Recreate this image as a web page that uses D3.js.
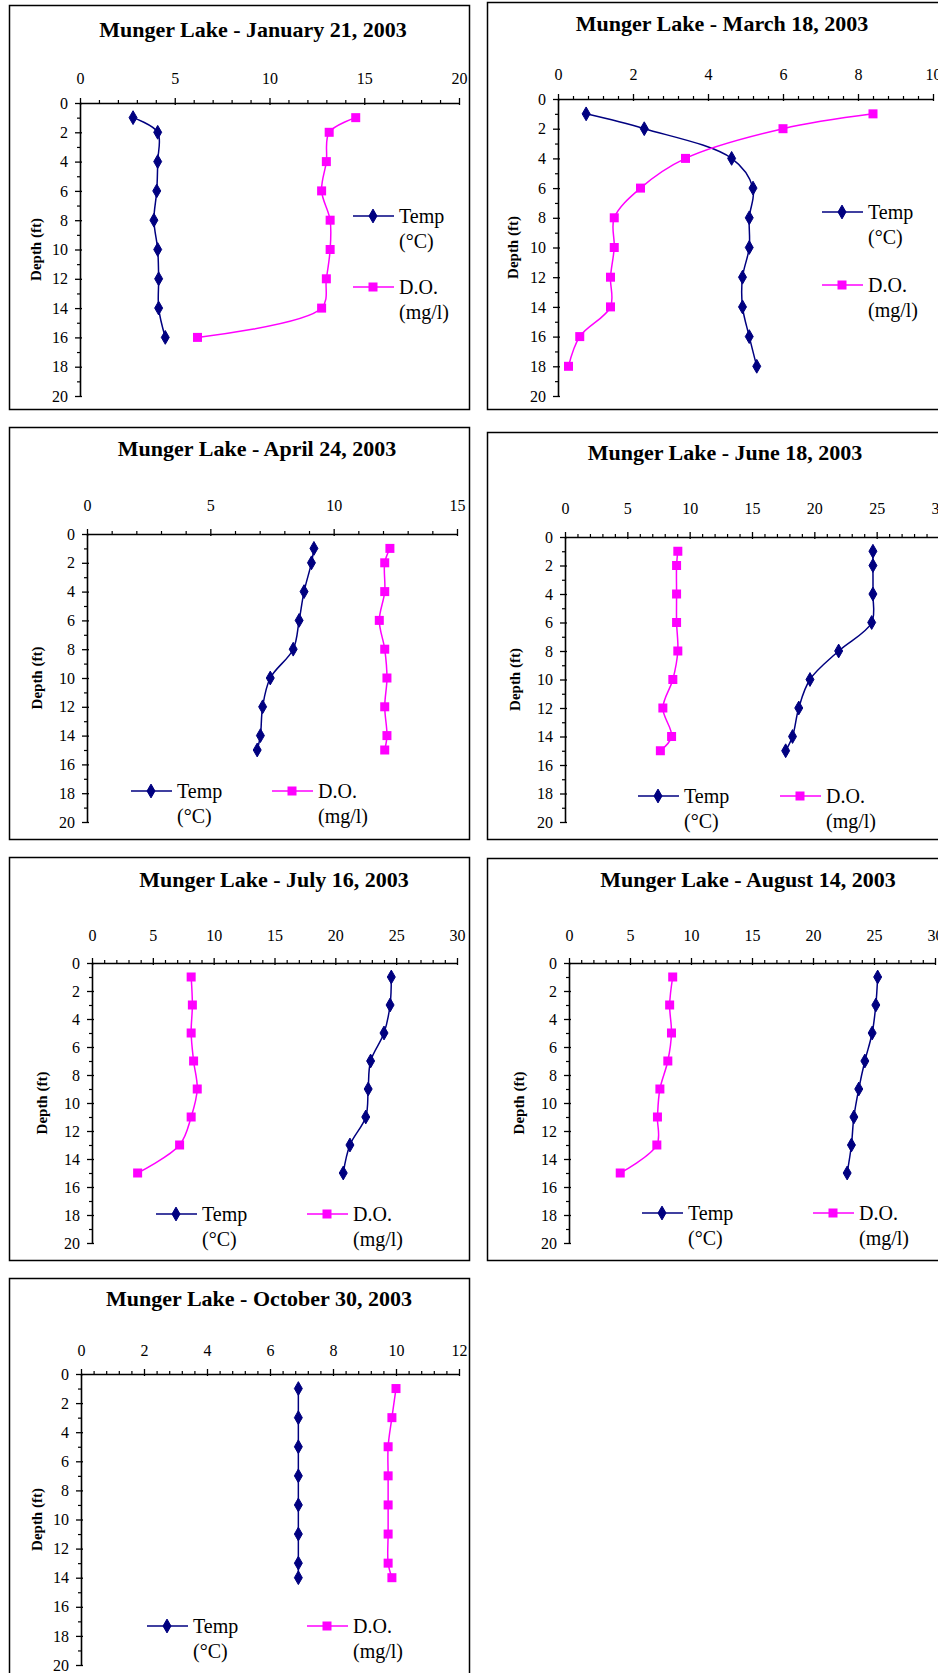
<!DOCTYPE html>
<html>
<head>
<meta charset="utf-8">
<script src="https://cdn.jsdelivr.net/npm/d3@7"></script>
<style>
  body { margin: 0; background: #fff; }
  svg text { font-family: "Liberation Serif", "Times New Roman", serif; fill: #000; }
</style>
</head>
<body>
<div id="chart"></div>
<script>
// depth profiles
const janDepth = [1, 2, 4, 6, 8, 10, 12, 14, 16];
const janTemp = [2.8, 4.1, 4.1, 4.05, 3.9, 4.1, 4.15, 4.15, 4.5];
const janDO = [14.55, 13.15, 13.0, 12.75, 13.2, 13.2, 13.0, 12.75, 6.2];

const marDepth = [1, 2, 4, 6, 8, 10, 12, 14, 16, 18];
const marTemp = [0.75, 2.3, 4.63, 5.2, 5.1, 5.1, 4.92, 4.92, 5.1, 5.3];
const marDO = [8.4, 6.0, 3.4, 2.2, 1.5, 1.5, 1.4, 1.4, 0.58, 0.28];

const aprDepth = [1, 2, 4, 6, 8, 10, 12, 14, 15];
const aprTemp = [9.2, 9.1, 8.8, 8.6, 8.36, 7.43, 7.12, 7.03, 6.9];
const aprDO = [12.28, 12.07, 12.07, 11.85, 12.07, 12.16, 12.07, 12.16, 12.07];

const junDepth = [1, 2, 4, 6, 8, 10, 12, 14, 15];
const junTemp = [24.7, 24.7, 24.7, 24.6, 21.95, 19.65, 18.75, 18.25, 17.7];
const junDO = [9.05, 8.95, 8.95, 8.95, 9.05, 8.65, 7.85, 8.55, 7.65];

const julDepth = [1, 3, 5, 7, 9, 11, 13, 15];
const julTemp = [24.6, 24.5, 24.0, 22.9, 22.7, 22.5, 21.2, 20.65];
const julDO = [8.15, 8.25, 8.15, 8.35, 8.65, 8.15, 7.2, 3.75];

const augDepth = [1, 3, 5, 7, 9, 11, 13, 15];
const augTemp = [25.3, 25.15, 24.85, 24.25, 23.75, 23.35, 23.15, 22.8];
const augDO = [8.5, 8.25, 8.4, 8.1, 7.45, 7.25, 7.2, 4.2];

const octDepth = [1, 3, 5, 7, 9, 11, 13, 14];
const octTemp = [6.9, 6.9, 6.9, 6.9, 6.9, 6.9, 6.9, 6.9];
const octDO = [10.0, 9.87, 9.75, 9.75, 9.75, 9.75, 9.75, 9.87];

const titles = [
  "Munger Lake - January 21, 2003",
  "Munger Lake - March 18, 2003",
  "Munger Lake - April 24, 2003",
  "Munger Lake - June 18, 2003",
  "Munger Lake - July 16, 2003",
  "Munger Lake - August 14, 2003",
  "Munger Lake - October 30, 2003"
];
const xMaxes = [20, 10, 15, 30, 30, 30, 12];
const xMajorSteps = [5, 2, 5, 5, 5, 5, 2];
const depthTicks = [0, 2, 4, 6, 8, 10, 12, 14, 16, 18, 20];
const legendTemp = ["Temp", "(°C)"];
const legendDO = ["D.O.", "(mg/l)"];
const depthLabel = "Depth (ft)";

const series = [
  [janDepth, janTemp, janDO],
  [marDepth, marTemp, marDO],
  [aprDepth, aprTemp, aprDO],
  [junDepth, junTemp, junDO],
  [julDepth, julTemp, julDO],
  [augDepth, augTemp, augDO],
  [octDepth, octTemp, octDO]
];

// layout of each panel (pixels)
const layout = [
  { box: [9, 5, 469, 409], plot: [80, 103, 459, 396], titleX: 253, titleY: 37, lab: 19, yLabX: 36,
    legend: "right", lx: 353, ly1: 216, ly2: 287 },
  { box: [487, 2, 960, 409], plot: [558, 99, 933, 396], titleX: 722, titleY: 31, lab: 19, yLabX: 513,
    legend: "right", lx: 822, ly1: 212, ly2: 285 },
  { box: [9, 427, 469, 839], plot: [87, 534, 457, 822], titleX: 257, titleY: 456, lab: 23, yLabX: 37,
    legend: "bottom", lx1: 131, lx2: 272, ly: 791 },
  { box: [487, 432, 960, 839], plot: [565, 537, 939, 822], titleX: 725, titleY: 460, lab: 23, yLabX: 515,
    legend: "bottom", lx1: 638, lx2: 780, ly: 796 },
  { box: [9, 857, 469, 1260], plot: [92, 963, 457, 1243], titleX: 274, titleY: 887, lab: 22, yLabX: 42,
    legend: "bottom", lx1: 156, lx2: 307, ly: 1214 },
  { box: [487, 858, 960, 1260], plot: [569, 963, 935, 1243], titleX: 748, titleY: 887, lab: 22, yLabX: 519,
    legend: "bottom", lx1: 642, lx2: 813, ly: 1213 },
  { box: [9, 1278, 469, 1700], plot: [81, 1374, 459, 1665], titleX: 259, titleY: 1306, lab: 18, yLabX: 37,
    legend: "bottom", lx1: 147, lx2: 307, ly: 1626 }
];

const tempColor = "#000080";
const doColor = "#ff00ff";
const serif = '"Liberation Serif", "Times New Roman", serif';

const svg = d3
  .select("#chart")
  .append("svg")
  .attr("width", 938)
  .attr("height", 1673);

const diamond = d3.symbol().type(d3.symbolDiamond).size(55);

function drawTempMarker(g, cx, cy) {
  g.append("path")
    .attr("d", diamond())
    .attr("transform", `translate(${cx},${cy})`)
    .attr("fill", tempColor)
    .attr("stroke", tempColor)
    .attr("stroke-width", 1);
}

function drawDOMarker(g, cx, cy) {
  g.append("rect")
    .attr("x", cx - 4.5)
    .attr("y", cy - 4.5)
    .attr("width", 9)
    .attr("height", 9)
    .attr("fill", doColor);
}

function legendEntry(g, x1, y, isTemp, textLines) {
  const color = isTemp ? tempColor : doColor;
  g.append("line")
    .attr("x1", x1).attr("x2", x1 + 41)
    .attr("y1", y).attr("y2", y)
    .attr("stroke", color).attr("stroke-width", 1.5);
  if (isTemp) drawTempMarker(g, x1 + 20, y);
  else drawDOMarker(g, x1 + 20, y);
  g.append("text")
    .attr("x", x1 + 46)
    .attr("y", y + 7)
    .style("font-size", "20px")
    .text(textLines[0]);
  g.append("text")
    .attr("x", x1 + 46)
    .attr("y", y + 32)
    .style("font-size", "20px")
    .text(textLines[1]);
}

// d3 axes put font attributes on the group; clear them and style the labels directly
function styleAxis(sel) {
  sel.attr("font-family", null).attr("font-size", null);
  sel.selectAll("text")
    .style("font-family", serif)
    .style("font-size", "16px")
    .style("fill", "#000");
}

series.forEach((s, i) => {
  const L = layout[i];
  const [depth, temp, dO] = s;
  const g = svg.append("g");

  // panel frame
  g.append("rect")
    .attr("x", L.box[0] + 0.5)
    .attr("y", L.box[1] + 0.5)
    .attr("width", L.box[2] - L.box[0])
    .attr("height", L.box[3] - L.box[1])
    .attr("fill", "#fff")
    .attr("stroke", "#000")
    .attr("stroke-width", 1.5);

  // title
  g.append("text")
    .attr("x", L.titleX)
    .attr("y", L.titleY)
    .attr("text-anchor", "middle")
    .style("font-size", "22px")
    .style("font-weight", "bold")
    .text(titles[i]);

  const x = d3.scaleLinear().domain([0, xMaxes[i]]).range([L.plot[0], L.plot[2]]);
  const y = d3.scaleLinear().domain([0, 20]).range([L.plot[1], L.plot[3]]);

  const step = xMajorSteps[i];
  const majors = d3.range(0, xMaxes[i] + step / 2, step);
  const minors = d3.range(0, xMaxes[i] + 1e-6, step / 5).filter(
    (v) => Math.abs(v / step - Math.round(v / step)) > 1e-6
  );

  // x axis on top, minor ticks
  g.append("g")
    .attr("transform", `translate(0,${L.plot[1]})`)
    .call(d3.axisTop(x).tickValues(minors).tickSize(3).tickFormat(""))
    .call((a) => a.select(".domain").remove())
    .selectAll("line").attr("stroke", "#000").attr("stroke-width", 1.2);

  // x axis major ticks + labels
  const xa = g.append("g")
    .attr("transform", `translate(0,${L.plot[1]})`)
    .call(d3.axisTop(x).tickValues(majors).tickSizeInner(5).tickSizeOuter(0).tickPadding(L.lab - 5));
  xa.select(".domain").attr("stroke", "#000").attr("stroke-width", 1.6);
  xa.selectAll(".tick line").attr("y1", 2).attr("stroke", "#000").attr("stroke-width", 1.3);
  styleAxis(xa);

  // y axis: minor ticks
  g.append("g")
    .attr("transform", `translate(${L.plot[0]},0)`)
    .call(d3.axisLeft(y).tickValues(d3.range(1, 20, 2)).tickSize(3).tickFormat(""))
    .call((a) => a.select(".domain").remove())
    .selectAll("line").attr("stroke", "#000").attr("stroke-width", 1.2);

  const ya = g.append("g")
    .attr("transform", `translate(${L.plot[0]},0)`)
    .call(d3.axisLeft(y).tickValues(depthTicks).tickSizeInner(5).tickSizeOuter(0).tickPadding(7));
  ya.select(".domain").attr("stroke", "#000").attr("stroke-width", 1.6);
  ya.selectAll(".tick line").attr("x1", 2).attr("stroke", "#000").attr("stroke-width", 1.3);
  styleAxis(ya);

  // y axis title
  const yMid = (L.plot[1] + L.plot[3]) / 2;
  g.append("text")
    .attr("transform", `translate(${L.yLabX + 5},${yMid}) rotate(-90)`)
    .attr("text-anchor", "middle")
    .style("font-size", "15px")
    .style("font-weight", "bold")
    .text(depthLabel);

  // series lines
  const pts = (vals) => depth.map((d, k) => [x(vals[k]), y(d)]);
  const line = d3.line().curve(d3.curveCatmullRom.alpha(0.5));

  g.append("path")
    .attr("d", line(pts(temp)))
    .attr("fill", "none")
    .attr("stroke", tempColor)
    .attr("stroke-width", 1.5);
  g.append("path")
    .attr("d", line(pts(dO)))
    .attr("fill", "none")
    .attr("stroke", doColor)
    .attr("stroke-width", 1.5);

  pts(temp).forEach((p) => drawTempMarker(g, p[0], p[1]));
  pts(dO).forEach((p) => drawDOMarker(g, p[0], p[1]));

  // legend
  if (L.legend === "right") {
    legendEntry(g, L.lx, L.ly1, true, legendTemp);
    legendEntry(g, L.lx, L.ly2, false, legendDO);
  } else {
    legendEntry(g, L.lx1, L.ly, true, legendTemp);
    legendEntry(g, L.lx2, L.ly, false, legendDO);
  }
});
</script>
</body>
</html>
